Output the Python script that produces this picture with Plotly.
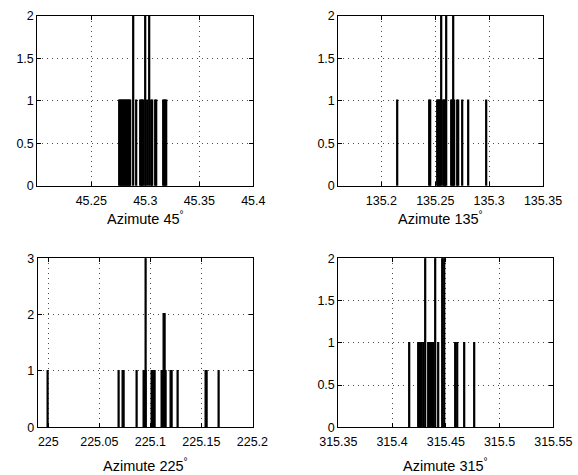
import plotly.graph_objects as go

# ---- data: histogram bin centres and counts ----
az45_x = [45.2766, 45.2775, 45.2784, 45.2794, 45.2803, 45.2812, 45.2821, 45.2831,
          45.2840, 45.2849, 45.2858, 45.2868, 45.2895, 45.2923, 45.2960, 45.2969,
          45.2979, 45.2988, 45.3002, 45.3025, 45.3044, 45.3062, 45.3071, 45.3099,
          45.3108, 45.3173, 45.3182, 45.3191, 45.3201]
az45_n = [1, 1, 1, 1, 1, 1, 1, 1,
          1, 1, 1, 1, 2, 1, 1, 1,
          1, 1, 2, 1, 2, 1, 1, 1,
          1, 1, 1, 1, 1]

az135_x = [135.2156, 135.2446, 135.2460, 135.2521, 135.2530, 135.2539, 135.2549,
           135.2563, 135.2577, 135.2586, 135.2596, 135.2610, 135.2652, 135.2661,
           135.2670, 135.2680, 135.2708, 135.2717, 135.2759, 135.2811, 135.2974]
az135_n = [1, 1, 1, 1, 1, 1, 1,
           2, 1, 1, 1, 2, 1, 1,
           2, 1, 1, 1, 1, 1, 1]

az225_x = [225.0000, 225.0693, 225.0739, 225.0869, 225.0943, 225.0953, 225.0962,
           225.1016, 225.1029, 225.1042, 225.1119, 225.1129, 225.1142, 225.1152,
           225.1209, 225.1271, 225.1552, 225.1676]
az225_n = [1, 1, 1, 1, 1, 1, 3,
           1, 1, 1, 1, 1, 2, 1,
           1, 1, 1, 1]

az315_x = [315.4167, 315.4251, 315.4260, 315.4269, 315.4278, 315.4297, 315.4316,
           315.4344, 315.4353, 315.4362, 315.4371, 315.4381, 315.4390, 315.4409,
           315.4432, 315.4474, 315.4488, 315.4593, 315.4607, 315.4678, 315.4774]
az315_n = [1, 1, 1, 1, 1, 1, 2,
           1, 1, 1, 1, 1, 1, 2,
           1, 2, 2, 1, 1, 1, 1]

titles = ["Azimute 45<sup>°</sup>", "Azimute 135<sup>°</sup>",
          "Azimute 225<sup>°</sup>", "Azimute 315<sup>°</sup>"]

xticks = [[45.25, 45.3, 45.35, 45.4],
          [135.2, 135.25, 135.3, 135.35],
          [225, 225.05, 225.1, 225.15, 225.2],
          [315.35, 315.4, 315.45, 315.5, 315.55]]
xticktext = [["45.25", "45.3", "45.35", "45.4"],
             ["135.2", "135.25", "135.3", "135.35"],
             ["225", "225.05", "225.1", "225.15", "225.2"],
             ["315.35", "315.4", "315.45", "315.5", "315.55"]]
yticks = [[0, 0.5, 1, 1.5, 2], [0, 0.5, 1, 1.5, 2], [0, 1, 2, 3], [0, 0.5, 1, 1.5, 2]]
yticktext = [["0", "0.5", "1", "1.5", "2"], ["0", "0.5", "1", "1.5", "2"],
             ["0", "1", "2", "3"], ["0", "0.5", "1", "1.5", "2"]]

# ---- layout geometry (pixels in a 578x475 canvas) ----
W, H = 578, 475
boxes = [(37.3, 253.3, 15.7, 186.0),
         (338.3, 543.0, 15.7, 186.0),
         (37.7, 253.3, 258.3, 427.3),
         (338.3, 553.3, 258.3, 427.3)]
xranges = [[45.2, 45.4], [135.16, 135.35], [224.9896, 225.2009], [315.35, 315.55]]
yranges = [[0, 2], [0, 2], [0, 3], [0, 2]]
binw = [0.00093, 0.00093, 0.0014, 0.00093]
title_y = [218, 218, 465, 465]

series = [(az45_x, az45_n), (az135_x, az135_n), (az225_x, az225_n), (az315_x, az315_n)]

fig = go.Figure()
font = "Liberation Sans, Arial, Helvetica, sans-serif"

for i, (xs, ns) in enumerate(series):
    k = "" if i == 0 else str(i + 1)
    fig.add_trace(go.Bar(
        x=xs, y=ns, width=[binw[i]] * len(xs),
        marker=dict(color="black", line=dict(color="black", width=1.2)),
        xaxis="x" + k, yaxis="y" + k, showlegend=False, hoverinfo="x+y"))
    x0, x1, t, b = boxes[i]
    axcommon = dict(showline=True, linecolor="black", linewidth=1, mirror="ticks",
                    ticks="inside", ticklen=4, tickcolor="black", tickwidth=1,
                    showgrid=True, gridcolor="rgba(0,0,0,0.7)", griddash="1px,4px",
                    gridwidth=1, zeroline=False, automargin=False,
                    tickfont=dict(family=font, size=12.5, color="black"))
    fig.layout["xaxis" + k] = dict(
        domain=[x0 / W, x1 / W], range=xranges[i], anchor="y" + k,
        tickmode="array", tickvals=xticks[i], ticktext=xticktext[i],
        ticklabelstandoff=3, **axcommon)
    fig.layout["yaxis" + k] = dict(
        domain=[1 - b / H, 1 - t / H], range=yranges[i], anchor="x" + k,
        tickmode="array", tickvals=yticks[i], ticktext=yticktext[i], **axcommon)
    fig.add_annotation(text=titles[i], x=(x0 + x1) / 2 / W, y=1 - title_y[i] / H,
                       xref="paper", yref="paper", xanchor="center", yanchor="middle",
                       showarrow=False, font=dict(family=font, size=14.5, color="black"))

fig.update_layout(width=W, height=H, margin=dict(l=0, r=0, t=0, b=0),
                  plot_bgcolor="white", paper_bgcolor="white",
                  barmode="overlay", bargap=0)

fig.write_html("out.html", config={"displayModeBar": False},
               post_script="document.body.style.margin='0';"
                           "document.body.style.overflow='hidden';")
